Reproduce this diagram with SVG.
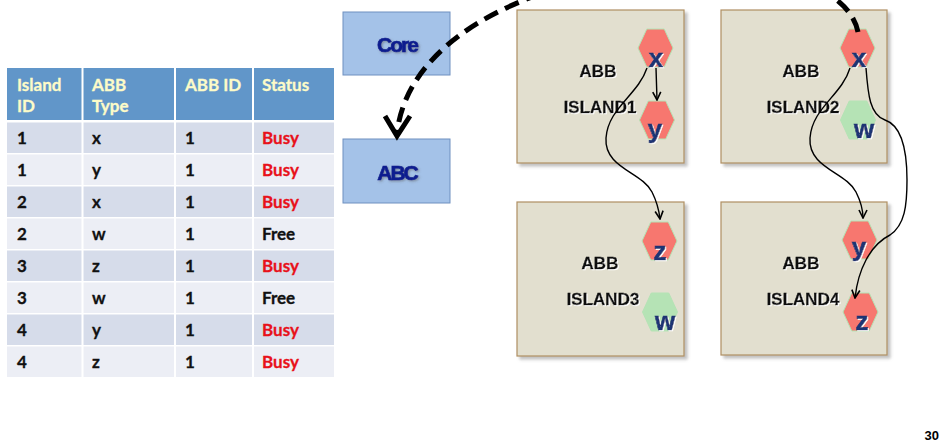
<svg xmlns="http://www.w3.org/2000/svg" width="943" height="445" viewBox="0 0 943 445">
  <style>
    .th { font-family: Lato, "Liberation Sans", sans-serif; font-weight: bold; font-size: 17px; fill: #fdfbc8; stroke: #fdfbc8; stroke-width: 0.3; }
    .td { font-family: Lato, "Liberation Sans", sans-serif; font-weight: bold; font-size: 17px; fill: #111; stroke: #111; stroke-width: 0.3; }
    .busy { fill: #e8111a; stroke: #e8111a; }
    .box { fill: #a4c2e8; stroke: #6f90c0; stroke-width: 1; }
    .boxt { font-family: "Liberation Sans", Arial, sans-serif; font-weight: bold; font-size: 21px; letter-spacing: -2px; fill: #0d1f8f; stroke: #0d1f8f; stroke-width: 0.7; text-anchor: middle; }
    .isl { fill: #e2dfcf; stroke: #b08f62; stroke-width: 1.2; }
    .lbl { font-family: "Liberation Sans", Arial, sans-serif; font-weight: bold; font-size: 17px; fill: #111; stroke: #111; stroke-width: 0.4; text-anchor: middle; }
    .hr { fill: #f7776f; stroke: #b5e3b5; stroke-width: 1; }
    .hg { fill: #b5e3b5; stroke: #b5e3b5; stroke-width: 1; }
    .let { font-family: "Liberation Sans", Arial, sans-serif; font-weight: bold; font-size: 26px; fill: #1f3474; stroke: #1f3474; stroke-width: 0.6; text-anchor: middle; }
    .thin { fill: none; stroke: #000; stroke-width: 1.4; }
    .thick { fill: none; stroke: #000; stroke-width: 5; }
  </style>
  <defs>
    <path id="hex" d="M-17.5,0 L-8.75,-19 L8.75,-19 L17.5,0 L8.75,19 L-8.75,19 Z"/>
    <filter id="shadow" x="-10%" y="-10%" width="130%" height="130%">
      <feDropShadow dx="3" dy="3" stdDeviation="1.5" flood-color="#777" flood-opacity="0.45"/>
    </filter>
    <filter id="glow" x="-10%" y="-20%" width="130%" height="150%">
      <feDropShadow dx="1" dy="1" stdDeviation="0.6" flood-color="#fff" flood-opacity="1"/>
    </filter>
    <filter id="soft" x="-10%" y="-20%" width="130%" height="150%">
      <feDropShadow dx="1.2" dy="1.2" stdDeviation="0.8" flood-color="#555" flood-opacity="0.5"/>
    </filter>
    <marker id="arr" viewBox="0 0 10 10" refX="9" refY="5" markerWidth="10" markerHeight="10" markerUnits="userSpaceOnUse" orient="auto">
      <path d="M1,1 L9,5 L1,9" fill="none" stroke="#000" stroke-width="1.6"/>
    </marker>
  </defs>

  <!-- status table -->
  <g id="table">
    <rect x="7" y="68" width="327" height="52" fill="#6196c9"/>
    <rect x="7" y="122.5" width="327" height="30.5" fill="#d6dcea"/>
    <rect x="7" y="154.5" width="327" height="30.5" fill="#eceef5"/>
    <rect x="7" y="186.5" width="327" height="30.5" fill="#d6dcea"/>
    <rect x="7" y="218.5" width="327" height="30.5" fill="#eceef5"/>
    <rect x="7" y="250.5" width="327" height="30.5" fill="#d6dcea"/>
    <rect x="7" y="282.5" width="327" height="30.5" fill="#eceef5"/>
    <rect x="7" y="314.5" width="327" height="30.5" fill="#d6dcea"/>
    <rect x="7" y="346.5" width="327" height="30.5" fill="#eceef5"/>
    <g stroke="#fff" stroke-width="2">
      <line x1="82.5" y1="68" x2="82.5" y2="377"/>
      <line x1="175" y1="68" x2="175" y2="377"/>
      <line x1="253" y1="68" x2="253" y2="377"/>
    </g>
    <text class="th" x="17" y="91">Island</text>
    <text class="th" x="17" y="112">ID</text>
    <text class="th" x="92" y="91">ABB</text>
    <text class="th" x="92" y="112">Type</text>
    <text class="th" x="185" y="91">ABB ID</text>
    <text class="th" x="262" y="91">Status</text>

    <text class="td" x="17" y="144">1</text><text class="td" x="92" y="144">x</text><text class="td" x="185" y="144">1</text><text class="td busy" x="262" y="144">Busy</text>
    <text class="td" x="17" y="176">1</text><text class="td" x="92" y="176">y</text><text class="td" x="185" y="176">1</text><text class="td busy" x="262" y="176">Busy</text>
    <text class="td" x="17" y="208">2</text><text class="td" x="92" y="208">x</text><text class="td" x="185" y="208">1</text><text class="td busy" x="262" y="208">Busy</text>
    <text class="td" x="17" y="240">2</text><text class="td" x="92" y="240">w</text><text class="td" x="185" y="240">1</text><text class="td" x="262" y="240">Free</text>
    <text class="td" x="17" y="272">3</text><text class="td" x="92" y="272">z</text><text class="td" x="185" y="272">1</text><text class="td busy" x="262" y="272">Busy</text>
    <text class="td" x="17" y="304">3</text><text class="td" x="92" y="304">w</text><text class="td" x="185" y="304">1</text><text class="td" x="262" y="304">Free</text>
    <text class="td" x="17" y="336">4</text><text class="td" x="92" y="336">y</text><text class="td" x="185" y="336">1</text><text class="td busy" x="262" y="336">Busy</text>
    <text class="td" x="17" y="368">4</text><text class="td" x="92" y="368">z</text><text class="td" x="185" y="368">1</text><text class="td busy" x="262" y="368">Busy</text>
  </g>

  <!-- Core and ABC boxes -->
  <g id="core">
    <rect class="box" x="343" y="12" width="107" height="63"/>
    <text class="boxt" x="397" y="52" filter="url(#soft)">Core</text>
  </g>
  <g id="abc">
    <rect class="box" x="343" y="139" width="107" height="64"/>
    <text class="boxt" x="397" y="180" filter="url(#soft)">ABC</text>
  </g>

  <!-- islands -->
  <g id="island1">
    <rect class="isl" x="517" y="10" width="167" height="153" filter="url(#shadow)"/>
    <text class="lbl" x="598" y="77" filter="url(#glow)">ABB</text>
    <text class="lbl" x="600" y="113" filter="url(#glow)">ISLAND1</text>
    <use href="#hex" class="hr" x="655.5" y="48"/>
    <text class="let" x="656" y="67" filter="url(#glow)">x</text>
    <use href="#hex" class="hr" x="657" y="120"/>
    <text class="let" x="655" y="138" filter="url(#glow)">y</text>
  </g>
  <g id="island2">
    <rect class="isl" x="721" y="10" width="166" height="153" filter="url(#shadow)"/>
    <text class="lbl" x="801" y="77" filter="url(#glow)">ABB</text>
    <text class="lbl" x="803" y="113" filter="url(#glow)">ISLAND2</text>
    <use href="#hex" class="hr" x="857.5" y="48"/>
    <text class="let" x="859" y="67" filter="url(#glow)">x</text>
    <use href="#hex" class="hg" x="858" y="120"/>
    <text class="let" x="864" y="138" filter="url(#glow)">w</text>
  </g>
  <g id="island3">
    <rect class="isl" x="517" y="202" width="167" height="154" filter="url(#shadow)"/>
    <text class="lbl" x="600" y="269" filter="url(#glow)">ABB</text>
    <text class="lbl" x="603" y="305" filter="url(#glow)">ISLAND3</text>
    <use href="#hex" class="hr" x="659.5" y="241"/>
    <text class="let" x="660" y="260" filter="url(#glow)">z</text>
    <use href="#hex" class="hg" x="660" y="312"/>
    <text class="let" x="665" y="330" filter="url(#glow)">w</text>
  </g>
  <g id="island4">
    <rect class="isl" x="721" y="202" width="166" height="153" filter="url(#shadow)"/>
    <text class="lbl" x="801" y="269" filter="url(#glow)">ABB</text>
    <text class="lbl" x="803" y="305" filter="url(#glow)">ISLAND4</text>
    <use href="#hex" class="hr" x="859.5" y="240"/>
    <text class="let" x="859" y="256" filter="url(#glow)">y</text>
    <use href="#hex" class="hr" x="860.5" y="312"/>
    <text class="let" x="862" y="330" filter="url(#glow)">z</text>
  </g>

  <!-- connectors -->
  <g id="connectors">
    <path class="thick" stroke-dasharray="15 8" d="M858,32 C835,-80 418,-48 397,133"/>
    <polyline class="thick" points="385,116 397,136 410,116" stroke-linejoin="miter"/>
    <path class="thin" marker-end="url(#arr)" d="M656,68 L657,100"/>
    <path class="thin" marker-end="url(#arr)" d="M647,68 C638,95 608,108 606,138 C604,168 642,172 652,192 C657,202 659,210 660,219"/>
    <path class="thin" marker-end="url(#arr)" d="M850,68 C842,95 812,108 810,138 C808,168 846,172 856,192 C861,202 863,210 863,218"/>
    <path class="thin" marker-end="url(#arr)" d="M866,68 C868,95 870,115 885,120 C900,125 907,145 907,180 C907,205 905,225 890,235 C870,245 858,270 855,298"/>
  </g>

  <text x="939" y="440" text-anchor="end" font-family="'Liberation Sans', Arial, sans-serif" font-weight="bold" font-size="13" fill="#000">30</text>
</svg>
